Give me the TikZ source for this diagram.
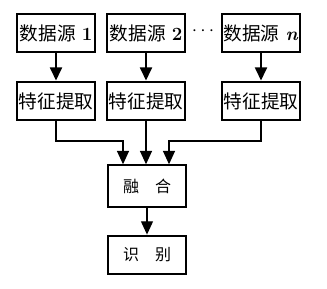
\documentclass[tikz,border=0pt]{standalone}
\usepackage{fontspec}
\newfontfamily\cjk{Noto Sans CJK SC}
\usetikzlibrary{arrows.meta}
\tikzset{
  blk/.style={draw, line width=1.6pt, minimum width=58pt, minimum height=29pt, inner sep=0pt, font=\fontsize{14}{16}\selectfont},
  link/.style={-{Triangle[width=9pt,length=10pt]}, line width=0.9pt},
}
\begin{document}
\begin{tikzpicture}[x=0.75pt, y=-0.75pt]
    \useasboundingbox (0,0) rectangle (327,288);
    % sources
    \node[blk] (s1) at (56,33) {{\cjk 数据源} \textbf{1}};
    \node[blk] (s2) at (146,33) {{\cjk 数据源} \textbf{2}};
    \node[blk] (sn) at (261,33) {{\cjk 数据源} \textbf{\textit{n}}};
    \node[font=\Large] (dots) at (203,31) {$\cdots$};
    % feature extraction
    \node[blk] (f1) at (56,101) {\cjk 特征提取};
    \node[blk] (f2) at (146,101) {\cjk 特征提取};
    \node[blk] (fn) at (261,101) {\cjk 特征提取};
    \node[blk, minimum height=31pt, font=\fontsize{12}{14}\selectfont] (fuse) at (147,186) {\cjk 融\quad 合};
    \node[blk, font=\fontsize{12}{14}\selectfont] (rec) at (147,255) {\cjk 识\quad 别};
    \draw[link, line width=1.8pt] (s1) -- (f1);
    \draw[link, line width=1.8pt] (s2) -- (f2);
    \draw[link, line width=1.8pt] (sn) -- (fn);
    \coordinate (m1) at (123,141);
    \coordinate (m3) at (169,141);
    \draw[link] (f1.south) |- (m1) -- (m1 |- fuse.north);
    \draw[link] (f2.south) -- (f2.south |- fuse.north);
    \draw[link] (fn.south) |- (m3) -- (m3 |- fuse.north);
    \draw[link] (fuse) -- (rec);
\end{tikzpicture}
\end{document}
